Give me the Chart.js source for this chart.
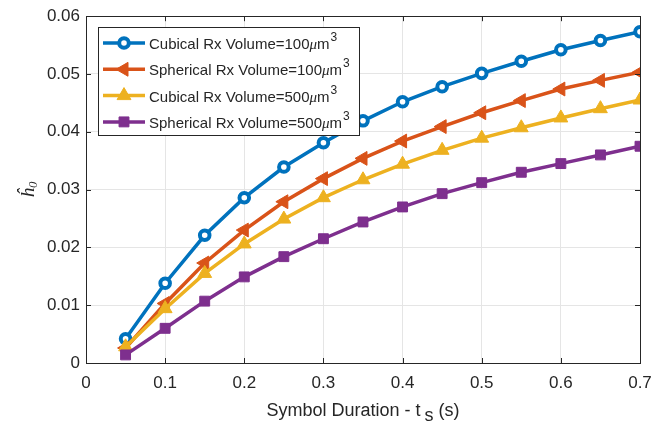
<!DOCTYPE html>
<html><head><meta charset="utf-8">
<script src="https://cdn.jsdelivr.net/npm/chart.js@4"></script>
<style>html,body{margin:0;padding:0;background:#fff;}#wrap{width:666px;height:423px;}</style>
</head><body><div id="wrap"><canvas id="c" width="666" height="423"></canvas></div>
<script>
const symbolDurations = [0.05,0.1,0.15,0.2,0.25,0.3,0.35,0.4,0.45,0.5,0.55,0.6,0.65,0.7];
const cubical100 = [0.0042,0.0138,0.0221,0.0286,0.0339,0.0381,0.0419,0.0452,0.0478,0.0501,0.0522,0.0542,0.0558,0.0573];
const spherical100 = [0.0026,0.0103,0.0173,0.0230,0.0279,0.0319,0.0354,0.0384,0.0409,0.0433,0.0454,0.0474,0.0489,0.0503];
const cubical500 = [0.0028,0.0094,0.0155,0.0206,0.0249,0.0286,0.0317,0.0344,0.0368,0.0389,0.0407,0.0424,0.0440,0.0455];
const spherical500 = [0.0014,0.0060,0.0107,0.0149,0.0184,0.0215,0.0244,0.0270,0.0293,0.0312,0.0330,0.0345,0.0360,0.0375];
const seriesShapes = ['Cubical','Spherical','Cubical','Spherical'];
const seriesVolumes = ['100','100','500','500'];
const seriesNames = seriesShapes.map((s,i)=>s+' Rx Volume='+seriesVolumes[i]+'\u03bcm\u00b3');
const xTickLabels = ['0','0.1','0.2','0.3','0.4','0.5','0.6','0.7'];
const yTickLabels = ['0','0.01','0.02','0.03','0.04','0.05','0.06'];
const xTitleMain = 'Symbol Duration - t';
const xTitleSub = 's';
const xTitleEnd = ' (s)';
const yTitleMain = '\u0125';
const yTitleSub = '0';

const colors = ['#0072BD','#D95319','#EDB120','#7E2F8E'];
const FONT = '"Liberation Sans", Arial, Helvetica, sans-serif';
const SERIF = '"Liberation Serif", "Times New Roman", serif';
const TXT = '#262626';
const allSeries = [cubical100, spherical100, cubical500, spherical500];
const styles = [
  {pointStyle:'circle', radius:4.8, rotation:0, bg:'#ffffff', bw:4},
  {pointStyle:'triangle', radius:8, rotation:-90, bg:colors[1], bw:1},
  {pointStyle:'triangle', radius:8, rotation:0, bg:colors[2], bw:1},
  {pointStyle:'rect', radius:7, rotation:0, bg:colors[3], bw:1}
];
const datasets = allSeries.map((s,i)=>({
  label: seriesNames[i],
  data: s.map((v,j)=>({x:symbolDurations[j], y:v})),
  borderColor: colors[i],
  backgroundColor: colors[i],
  borderWidth: 3.5,
  pointStyle: styles[i].pointStyle,
  pointRadius: styles[i].radius,
  pointRotation: styles[i].rotation,
  pointBackgroundColor: styles[i].bg,
  pointBorderColor: colors[i],
  pointBorderWidth: styles[i].bw,
  tension: 0,
  order: 3-i
}));

const frame = {
  id:'frame',
  afterDatasetsDraw(chart){
    const {ctx, chartArea:a} = chart;
    ctx.save();
    ctx.strokeStyle = TXT; ctx.lineWidth = 1;
    ctx.strokeRect(Math.round(a.left)+0.5, Math.round(a.top)+0.5, Math.round(a.right-a.left), Math.round(a.bottom-a.top));
    const xs = chart.scales.x, ys = chart.scales.y;
    ctx.beginPath();
    xs.ticks.forEach(t=>{const p=Math.round(xs.getPixelForValue(t.value))+0.5; ctx.moveTo(p,a.bottom); ctx.lineTo(p,a.bottom-5); ctx.moveTo(p,a.top); ctx.lineTo(p,a.top+5);});
    ys.ticks.forEach(t=>{const p=Math.round(ys.getPixelForValue(t.value))+0.5; ctx.moveTo(a.left,p); ctx.lineTo(a.left+5,p); ctx.moveTo(a.right,p); ctx.lineTo(a.right-5,p);});
    ctx.stroke();
    ctx.restore();
  },
  afterDraw(chart){
    const ctx = chart.ctx, a = chart.chartArea;
    ctx.save();
    // x title
    ctx.fillStyle = TXT; ctx.textBaseline='alphabetic'; ctx.textAlign='left';
    ctx.font = '18px '+FONT;
    const w1 = ctx.measureText(xTitleMain).width;
    const w2 = ctx.measureText(xTitleSub).width;
    const gap = 4;
    const w3 = ctx.measureText(xTitleEnd).width;
    const total = w1+gap+w2+w3;
    let x0 = (a.left+a.right)/2 - total/2;
    const base = 416;
    ctx.fillText(xTitleMain, x0, base);
    ctx.fillText(xTitleSub, x0+w1+gap, base+5);
    ctx.fillText(xTitleEnd, x0+w1+gap+w2, base);
    // y title
    ctx.save();
    ctx.translate(34, (a.top+a.bottom)/2);
    ctx.rotate(-Math.PI/2);
    ctx.font = 'italic 19px '+SERIF;
    const hw = ctx.measureText(yTitleMain).width;
    ctx.font = 'italic 13px '+SERIF;
    const sw = ctx.measureText(yTitleSub).width;
    const tw = hw+sw;
    ctx.font = 'italic 19px '+SERIF;
    ctx.fillText(yTitleMain, -tw/2, 0);
    ctx.font = 'italic 13px '+SERIF;
    ctx.fillText(yTitleSub, -tw/2+hw, 3);
    ctx.restore();
    // legend
    const bx=98, by=27, bw=261, bh=108;
    ctx.fillStyle='#fff'; ctx.fillRect(bx,by,bw,bh);
    ctx.strokeStyle=TXT; ctx.lineWidth=1; ctx.strokeRect(bx+0.5,by+0.5,bw,bh);
    chart.data.datasets.forEach((d,i)=>{
      const y = by+16+i*26.3;
      ctx.strokeStyle=d.borderColor; ctx.lineWidth=d.borderWidth;
      ctx.beginPath(); ctx.moveTo(103,y); ctx.lineTo(145,y); ctx.stroke();
      ctx.fillStyle=d.pointBackgroundColor; ctx.strokeStyle=d.pointBorderColor; ctx.lineWidth=d.pointBorderWidth;
      Chart.helpers.drawPoint(ctx, {pointStyle:d.pointStyle, radius:d.pointRadius, rotation:d.pointRotation, borderWidth:d.pointBorderWidth}, 124, y);
      ctx.fillStyle=TXT; ctx.textBaseline='alphabetic';
      let tx = 149; const ty = y+6;
      const p1 = seriesShapes[i]+' Rx Volume='+seriesVolumes[i];
      ctx.font='15px '+FONT; ctx.fillText(p1, tx, ty); tx += ctx.measureText(p1).width;
      ctx.font='italic 15px '+SERIF; ctx.fillText('\u03bc', tx, ty); tx += ctx.measureText('\u03bc').width;
      ctx.font='15px '+FONT; ctx.fillText('m', tx, ty); tx += ctx.measureText('m').width+1;
      ctx.font='12px '+FONT; ctx.fillText('3', tx, ty-8);
    });
    ctx.restore();
  }
};

new Chart(document.getElementById('c'), {
  type:'line',
  data:{datasets},
  options:{
    responsive:false, animation:false,
    layout:{padding:{top:14,right:26,left:0,bottom:0}},
    plugins:{legend:{display:false}, tooltip:{enabled:false}},
    scales:{
      x:{type:'linear', min:0, max:0.7,
        afterFit(s){s.height=60;},
        afterBuildTicks(s){s.ticks = xTickLabels.map(l=>({value:parseFloat(l)}));},
        ticks:{padding:10, color:TXT, font:{family:FONT,size:17}, callback:(v,i)=>xTickLabels[i]},
        grid:{color:'#e5e5e5', drawTicks:false},
        border:{display:false},
        title:{display:false}
      },
      y:{min:0, max:0.06,
        afterFit(s){s.width=86;},
        afterBuildTicks(s){s.ticks = yTickLabels.map(l=>({value:parseFloat(l)}));},
        ticks:{padding:6, color:TXT, font:{family:FONT,size:17}, callback:(v,i)=>yTickLabels[i]},
        grid:{color:'#e5e5e5', drawTicks:false},
        border:{display:false},
        title:{display:false}
      }
    }
  },
  plugins:[frame]
});
</script></body></html>
